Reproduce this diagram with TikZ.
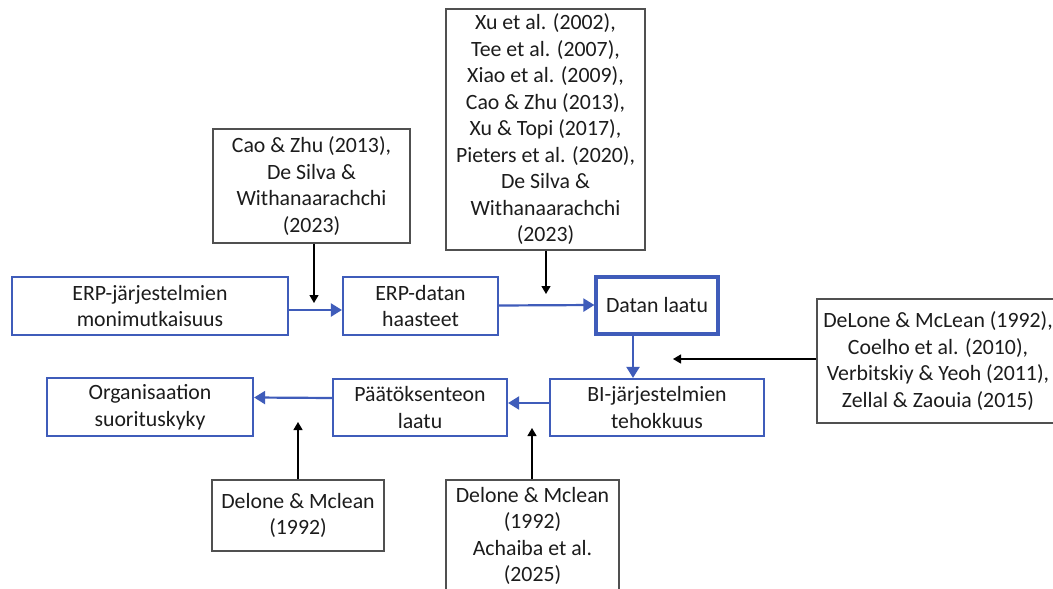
\documentclass[tikz,border=0pt]{standalone}
\usepackage{fontspec}
\setmainfont{Carlito}
\usetikzlibrary{arrows.meta}
\definecolor{boxblue}{RGB}{63,92,186}
\definecolor{refgray}{RGB}{80,80,80}
\definecolor{txt}{RGB}{28,28,28}
\tikzset{
  blubox/.style={draw=boxblue, line width=2.2pt, rectangle, inner sep=0pt, align=center, text=txt,
    font=\fontsize{21.8}{26.5}\selectfont},
  refbox/.style={draw=refgray, line width=1.3pt, rectangle, inner sep=0pt, align=center, text=txt,
    font=\fontsize{21.8}{26.5}\selectfont},
  bluarrow/.style={draw=boxblue, line width=2.2pt, -{Triangle[length=11pt,width=13pt]}},
  refarrow/.style={draw=black, line width=1.3pt, -{Triangle[length=8pt,width=9pt]}}
}
\begin{document}
\begin{tikzpicture}[x=1pt,y=-1pt]
\clip (0,0) rectangle (1053,589);
\fill[white] (0,0) rectangle (1053,589);
% blue boxes
\node[blubox, minimum width=276pt, minimum height=58pt] (b1) at (150,306) {ERP-järjestelmien\\monimutkaisuus};
\node[blubox, minimum width=155pt, minimum height=58pt] (b2) at (420.5,306) {ERP-datan\\haasteet};
\node[blubox, line width=3.2pt, minimum width=122pt, minimum height=57pt] (b3) at (657,305.5) {Datan laatu};
\node[blubox, minimum width=214pt, minimum height=57pt] (b4) at (657,407.5) {BI-järjestelmien\\tehokkuus};
\node[blubox, minimum width=174pt, minimum height=57pt] (b5) at (420,407.5) {Päätöksenteon\\laatu};
\node[blubox, minimum width=206pt, minimum height=58pt] (b6) at (150,407) {Organisaation\\suorituskyky};
% reference boxes
\node[refbox, minimum width=197pt, minimum height=114pt] (rA) at (311.5,186) {Cao \& Zhu (2013),\\De Silva \&\\Withanaarachchi\\(2023)};
\node[refbox, minimum width=199pt, minimum height=241pt] (rB) at (545.5,129.5) {Xu et al. (2002),\\Tee et al. (2007),\\Xiao et al. (2009),\\Cao \& Zhu (2013),\\Xu \& Topi (2017),\\Pieters et al. (2020),\\De Silva \&\\Withanaarachchi\\(2023)};
\node[refbox, minimum width=242pt, minimum height=124pt] (rC) at (938,361) {DeLone \& McLean (1992),\\Coelho et al. (2010),\\Verbitskiy \& Yeoh (2011),\\Zellal \& Zaouia (2015)};
\node[refbox, minimum width=172pt, minimum height=71pt] (rD) at (298,515.5) {Delone \& Mclean\\(1992)};
\node[refbox, minimum width=173pt, minimum height=112pt] (rE) at (532.5,536) {Delone \& Mclean\\(1992)\\Achaiba et al.\\(2025)};
% free ends
\coordinate (tA) at (314,303);
\coordinate (tB) at (546,294);
\coordinate (tC) at (673,359);
\coordinate (tD) at (298,422);
\coordinate (tE) at (532,428);
% blue arrows
\draw[bluarrow] ([yshift=-4pt]b1.east) -- ([yshift=-4pt]b2.west);
\draw[bluarrow] ([yshift=0.5pt]b2.east) -- ([yshift=0.5pt]b3.west);
\draw[bluarrow] ([xshift=-24pt]b3.south) -- ([xshift=-24pt]b4.north);
\draw[bluarrow] ([yshift=4.5pt]b4.west) -- ([yshift=4.5pt]b5.west -| b5.east);
\draw[bluarrow] ([yshift=9.5pt]b5.west) -- ([yshift=9.5pt]b6.east);
% reference arrows
\draw[refarrow] (rA.south -| tA) -- (tA);
\draw[refarrow] (rB.south -| tB) -- (tB);
\draw[refarrow] (rC.west |- tC) -- (tC);
\draw[refarrow] (rD.north -| tD) -- (tD);
\draw[refarrow] (rE.north -| tE) -- (tE);
\end{tikzpicture}
\end{document}
